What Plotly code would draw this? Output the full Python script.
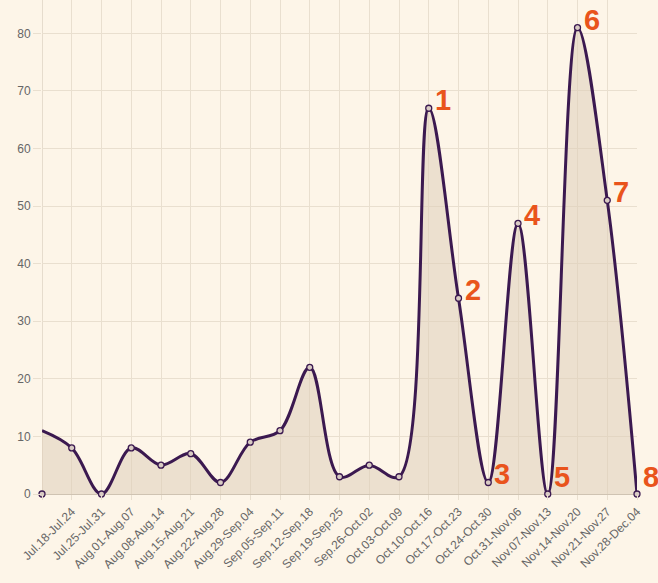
import plotly.graph_objects as go

# weekly buckets (first slot has no label in the original)
weeks = ["", "Jul.18-Jul.24", "Jul.25-Jul.31", "Aug.01-Aug.07", "Aug.08-Aug.14",
         "Aug.15-Aug.21", "Aug.22-Aug.28", "Aug.29-Sep.04", "Sep.05-Sep.11",
         "Sep.12-Sep.18", "Sep.19-Sep.25", "Sep.26-Oct.02", "Oct.03-Oct.09",
         "Oct.10-Oct.16", "Oct.17-Oct.23", "Oct.24-Oct.30", "Oct.31-Nov.06",
         "Nov.07-Nov.13", "Nov.14-Nov.20", "Nov.21-Nov.27", "Nov.28-Dec.04"]

# point values
counts = [0, 8, 0, 8, 5, 7, 2, 9, 11, 22, 3, 5, 3, 67, 34, 2, 47, 0, 81, 51, 0]
# the drawn curve starts at ~11 on the left edge
curve = [11] + counts[1:]

# numbered call-outs: (label, week index)
callouts = [("1", 13), ("2", 14), ("3", 15), ("4", 16),
            ("5", 17), ("6", 18), ("7", 19), ("8", 20)]

x = list(range(len(weeks)))

BG = "#fdf5e8"
GRID = "#e9dfcf"
LINE = "#3b1950"

fig = go.Figure()
fig.add_trace(go.Scatter(x=x, y=curve, mode="lines",
                         line=dict(color=LINE, width=3, shape="spline", smoothing=1.0),
                         fill="tozeroy", fillcolor="rgba(222,205,185,0.55)",
                         hoverinfo="skip"))
fig.add_trace(go.Scatter(x=x, y=counts, mode="markers", cliponaxis=False,
                         marker=dict(size=6, color="#d9cbc4",
                                     line=dict(color=LINE, width=1.3))))

# labels near the floor are kept just above the axis
for lab, i in callouts:
    fig.add_annotation(x=i, y=max(counts[i], 1.6), text="<b>" + lab + "</b>",
                       showarrow=False, xanchor="left", yanchor="bottom",
                       xshift=4, yshift=-10,
                       font=dict(size=29, color="#e9541c", family="Liberation Sans"))

fig.update_layout(
    width=658, height=583,
    margin=dict(l=42, r=21, t=0, b=89),
    paper_bgcolor=BG, plot_bgcolor=BG,
    showlegend=False,
    font=dict(family="Liberation Sans", size=12, color="#666666"),
)
fig.update_xaxes(range=[0, 20], tickvals=x, ticktext=weeks, tickangle=-45,
                 showgrid=True, gridcolor=GRID, gridwidth=1,
                 ticks="outside", ticklen=5, tickcolor=GRID,
                 showline=False, zeroline=False, tickfont=dict(size=12, color="#666666"))
fig.update_yaxes(range=[0, 85.8], tickvals=[0, 10, 20, 30, 40, 50, 60, 70, 80],
                 showgrid=True, gridcolor=GRID, gridwidth=1,
                 ticks="outside", ticklen=8, tickcolor=GRID,
                 zeroline=True, zerolinecolor="#cfc3b2", zerolinewidth=1,
                 showline=False, tickfont=dict(size=12, color="#666666"))
fig.add_shape(type="line", xref="x", yref="paper", x0=0, x1=0, y0=0, y1=1,
              line=dict(color="#cfc3b2", width=1), layer="below")

fig.write_html("out.html", config={"displayModeBar": False},
               post_script="document.body.style.margin='0';")
